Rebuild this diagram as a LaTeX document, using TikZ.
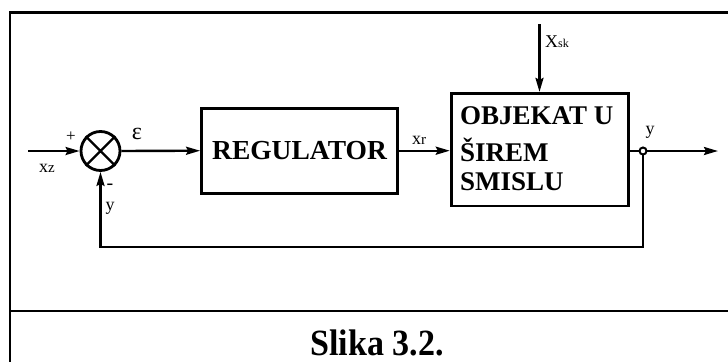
\documentclass[tikz,border=0pt]{standalone}
\usepackage{fontspec}
\setmainfont{Liberation Serif}
\usetikzlibrary{arrows.meta}

\begin{document}
\begin{tikzpicture}[x=1pt,y=-1pt,
  wire/.style={line width=2.4pt},
  flow/.style={line width=2.4pt, -{Stealth[length=14pt,width=8pt,inset=2pt]}},
  block/.style={draw, line width=2.8pt, inner sep=0pt},
  blocktext/.style={inner sep=0pt, anchor=base west, font=\fontsize{27}{30}\selectfont\bfseries},
  lbl/.style={inner sep=0pt, font=\fontsize{18}{20}\selectfont}
]
\useasboundingbox (0,0) rectangle (728,362);

% outer frame
\draw[line width=2.6pt] (740,12.7) -- (10,12.7) -- (10,311) -- (740,311);
\draw[line width=1.2pt] (10,311) -- (10,362);

% blocks
\node[block, circle, minimum size=39pt] (sum) at (100.5,151) {};
\draw[line width=2.4pt] (sum.45) -- (sum.225) (sum.135) -- (sum.315);

\node[block, minimum width=196pt, minimum height=85pt,
      font=\fontsize{27.5}{30}\selectfont\bfseries] (reg) at (299.5,150.7) {REGULATOR};

\node[block, minimum width=177.6pt, minimum height=112.6pt] (obj) at (540,149.6) {};
\node[blocktext] (obj1) at (460,124.3) {OBJEKAT U};
\node[blocktext] (obj2) at (460,161.7) {ŠIREM};
\node[blocktext] (obj3) at (460,190) {SMISLU};

% free ends and corners of the connectors
\coordinate (in)  at (28,151);
\coordinate (out) at (718,151);
\coordinate (dist) at (539.5,24);
\coordinate (fbR) at (643,247);
\coordinate (fbL) at (100.5,247);
\coordinate (junc) at (643,151);

% connectors
\draw[flow] (in) -- (sum.west);
\draw[flow] (sum.east) -- (reg.west);
\draw[flow] (reg.east) -- (obj.west |- reg.east);
\draw[flow] (dist) -- (dist |- obj.north);
\draw[wire] (obj.east |- junc) -- (junc);
\draw[flow] (junc) -- (out);
\draw[flow] (junc) -- (fbR) -- (fbL) -- (sum.south);
\node[circle, draw, fill=white, line width=2pt, minimum size=7pt, inner sep=0pt] (jdot) at (junc) {};

% signal labels
\node[lbl, font=\fontsize{17}{18}\selectfont] (plus) at (71,137) {+};
\node[lbl] (xz) at (47,168) {x{\fontsize{15}{16}\selectfont z}};
\node[lbl, font=\fontsize{24}{26}\selectfont] (eps) at (137,134) {ε};
\node[lbl, font=\fontsize{20}{22}\selectfont] (minus) at (110,187) {-};
\node[lbl] (yfb) at (110,208) {y};
\node[lbl] (xr) at (419,140) {x{\fontsize{15}{16}\selectfont r}};
\node[lbl, anchor=base west] (xsk) at (545,47.3) {X{\fontsize{12}{13}\selectfont sk}};
\node[lbl] (yout) at (650,132) {y};

% caption
\node[inner sep=0pt, anchor=base] (cap) at (377,355)
  {\scalebox{0.92}[1]{\fontsize{37}{40}\selectfont\bfseries Slika 3.2.}};
\end{tikzpicture}
\end{document}
